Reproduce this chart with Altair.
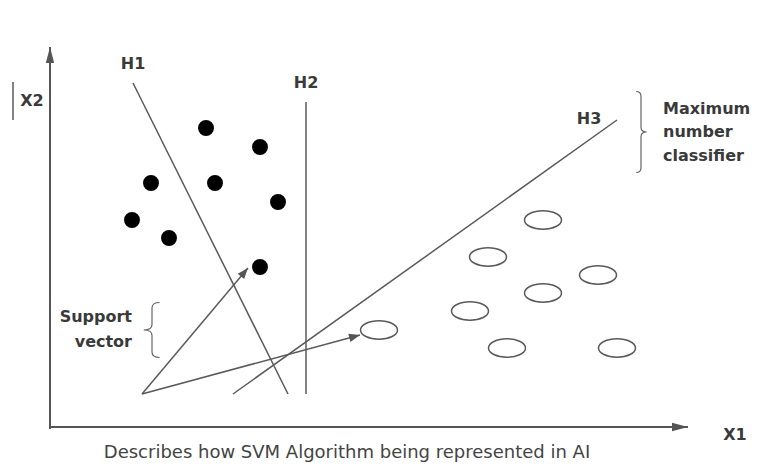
import altair as alt
import pandas as pd

# ---- data (page pixel coordinates) ----
dot_x = [206, 260, 151, 215, 278, 132, 169, 260]
dot_y = [128, 147, 183, 183, 202, 220, 238, 267]

ell_x = [543, 488, 598, 543, 470, 379, 507, 617]
ell_y = [220, 257, 275, 293, 311, 330, 348, 348]

axis_x1 = [50, 50]
axis_y1 = [429, 427]
axis_x2 = [50, 688]
axis_y2 = [47, 427]

line_names = ["H1", "H2", "H3", "arrow1", "arrow2", "cursor"]
line_x1 = [133, 306, 617, 142, 142, 13]
line_y1 = [83, 102, 120, 394, 394, 82]
line_x2 = [288, 306, 233, 248, 360, 13]
line_y2 = [394, 394, 394, 268, 335, 120]

axis_head_x = [50, 688]
axis_head_y = [47, 427]
axis_head_angle = [0, 90]

sv_head_x = [248, 360]
sv_head_y = [268, 335]
sv_head_angle = [40, 75]

center_labels = ["H1", "H2", "H3", "X1", "X2"]
center_x = [133, 306, 589, 735, 32]
center_y = [64, 83, 119, 435, 101]

right_labels = ["Maximum", "number", "classifier"]
right_x = [663, 663, 663]
right_y = [109, 132, 156]

left_labels = ["Support", "vector"]
left_x = [132, 132]
left_y = [317, 342]

caption = ["Describes how SVM Algorithm being represented in AI"]
caption_x = [347]
caption_y = [453]

# ---- scales: data units = page pixels ----
W, H = 742, 455
xs = alt.Scale(domain=[8, 8 + W], nice=False, zero=False)
ys = alt.Scale(domain=[8, 8 + H], nice=False, zero=False, reverse=True)


def X(f):
    return alt.X(f, type="quantitative", scale=xs, axis=None)


def Y(f):
    return alt.Y(f, type="quantitative", scale=ys, axis=None)


axes_df = pd.DataFrame({"x": axis_x1, "y": axis_y1, "x2": axis_x2, "y2": axis_y2})
lines_df = pd.DataFrame({"name": line_names, "x": line_x1, "y": line_y1,
                         "x2": line_x2, "y2": line_y2})
dots_df = pd.DataFrame({"x": dot_x, "y": dot_y})
ell_df = pd.DataFrame({"x": ell_x, "y": ell_y})
ahead_df = pd.DataFrame({"x": axis_head_x, "y": axis_head_y, "a": axis_head_angle})
shead_df = pd.DataFrame({"x": sv_head_x, "y": sv_head_y, "a": sv_head_angle})
ctext_df = pd.DataFrame({"t": center_labels, "x": center_x, "y": center_y})
rtext_df = pd.DataFrame({"t": right_labels, "x": right_x, "y": right_y})
ltext_df = pd.DataFrame({"t": left_labels, "x": left_x, "y": left_y})
cap_df = pd.DataFrame({"t": caption, "x": caption_x, "y": caption_y})
brace_r_df = pd.DataFrame({"x": [641], "y": [132]})
brace_l_df = pd.DataFrame({"x": [152], "y": [330]})

axes_layer = alt.Chart(axes_df).mark_rule(color="#555555", strokeWidth=2).encode(
    x=X("x"), y=Y("y"), x2="x2", y2="y2")

lines_layer = alt.Chart(lines_df).mark_rule(color="#5a5a5a", strokeWidth=1.5).encode(
    x=X("x"), y=Y("y"), x2="x2", y2="y2")

axis_heads = alt.Chart(ahead_df).mark_point(
    shape="M0,0 L-0.26,1 L0.26,1 Z", filled=True, size=1024,
    color="#555555", opacity=1).encode(
    x=X("x"), y=Y("y"), angle=alt.Angle("a:Q", scale=None))

sv_heads = alt.Chart(shead_df).mark_point(
    shape="M0,0 L-0.38,1 L0.38,1 Z", filled=True, size=484,
    color="#555555", opacity=1).encode(
    x=X("x"), y=Y("y"), angle=alt.Angle("a:Q", scale=None))

dots_layer = alt.Chart(dots_df).mark_circle(size=254, color="black", opacity=1).encode(
    x=X("x"), y=Y("y"))

ell_layer = alt.Chart(ell_df).mark_point(
    shape="M-1,0 A1,0.5 0 1,0 1,0 A1,0.5 0 1,0 -1,0 Z",
    size=1369, filled=False, color="#5a5a5a", strokeWidth=1.5, opacity=1).encode(
    x=X("x"), y=Y("y"))

brace_r = alt.Chart(brace_r_df).mark_point(
    shape="M-0.12,-1 Q0,-1 0,-0.88 L0,-0.12 Q0,0 0.14,0 Q0,0 0,0.12 L0,0.88 Q0,1 -0.12,1",
    size=6561, filled=False, color="#666666", strokeWidth=1.2, opacity=1).encode(
    x=X("x"), y=Y("y"))

brace_l = alt.Chart(brace_l_df).mark_point(
    shape="M0.28,-1 Q0,-1 0,-0.8 L0,-0.2 Q0,0 -0.3,0 Q0,0 0,0.2 L0,0.8 Q0,1 0.28,1",
    size=3025, filled=False, color="#666666", strokeWidth=1.2, opacity=1).encode(
    x=X("x"), y=Y("y"))

bold = dict(font="DejaVu Sans", fontWeight="bold", fontSize=16, color="#3a3a3a",
            baseline="middle")

ctext = alt.Chart(ctext_df).mark_text(align="center", **bold).encode(
    x=X("x"), y=Y("y"), text="t:N")
rtext = alt.Chart(rtext_df).mark_text(align="left", **bold).encode(
    x=X("x"), y=Y("y"), text="t:N")
ltext = alt.Chart(ltext_df).mark_text(align="right", **bold).encode(
    x=X("x"), y=Y("y"), text="t:N")
cap_text = alt.Chart(cap_df).mark_text(
    align="center", baseline="middle", font="DejaVu Sans", fontSize=18,
    color="#444444").encode(x=X("x"), y=Y("y"), text="t:N")

chart = alt.layer(
    axes_layer, lines_layer, axis_heads, sv_heads, dots_layer, ell_layer,
    brace_r, brace_l, ctext, rtext, ltext, cap_text
).properties(
    width=W, height=H, padding=0,
    autosize=alt.AutoSizeParams(type="none")
).configure_view(stroke=None)

chart.save("out.html", embed_options={"renderer": "svg", "actions": False})
